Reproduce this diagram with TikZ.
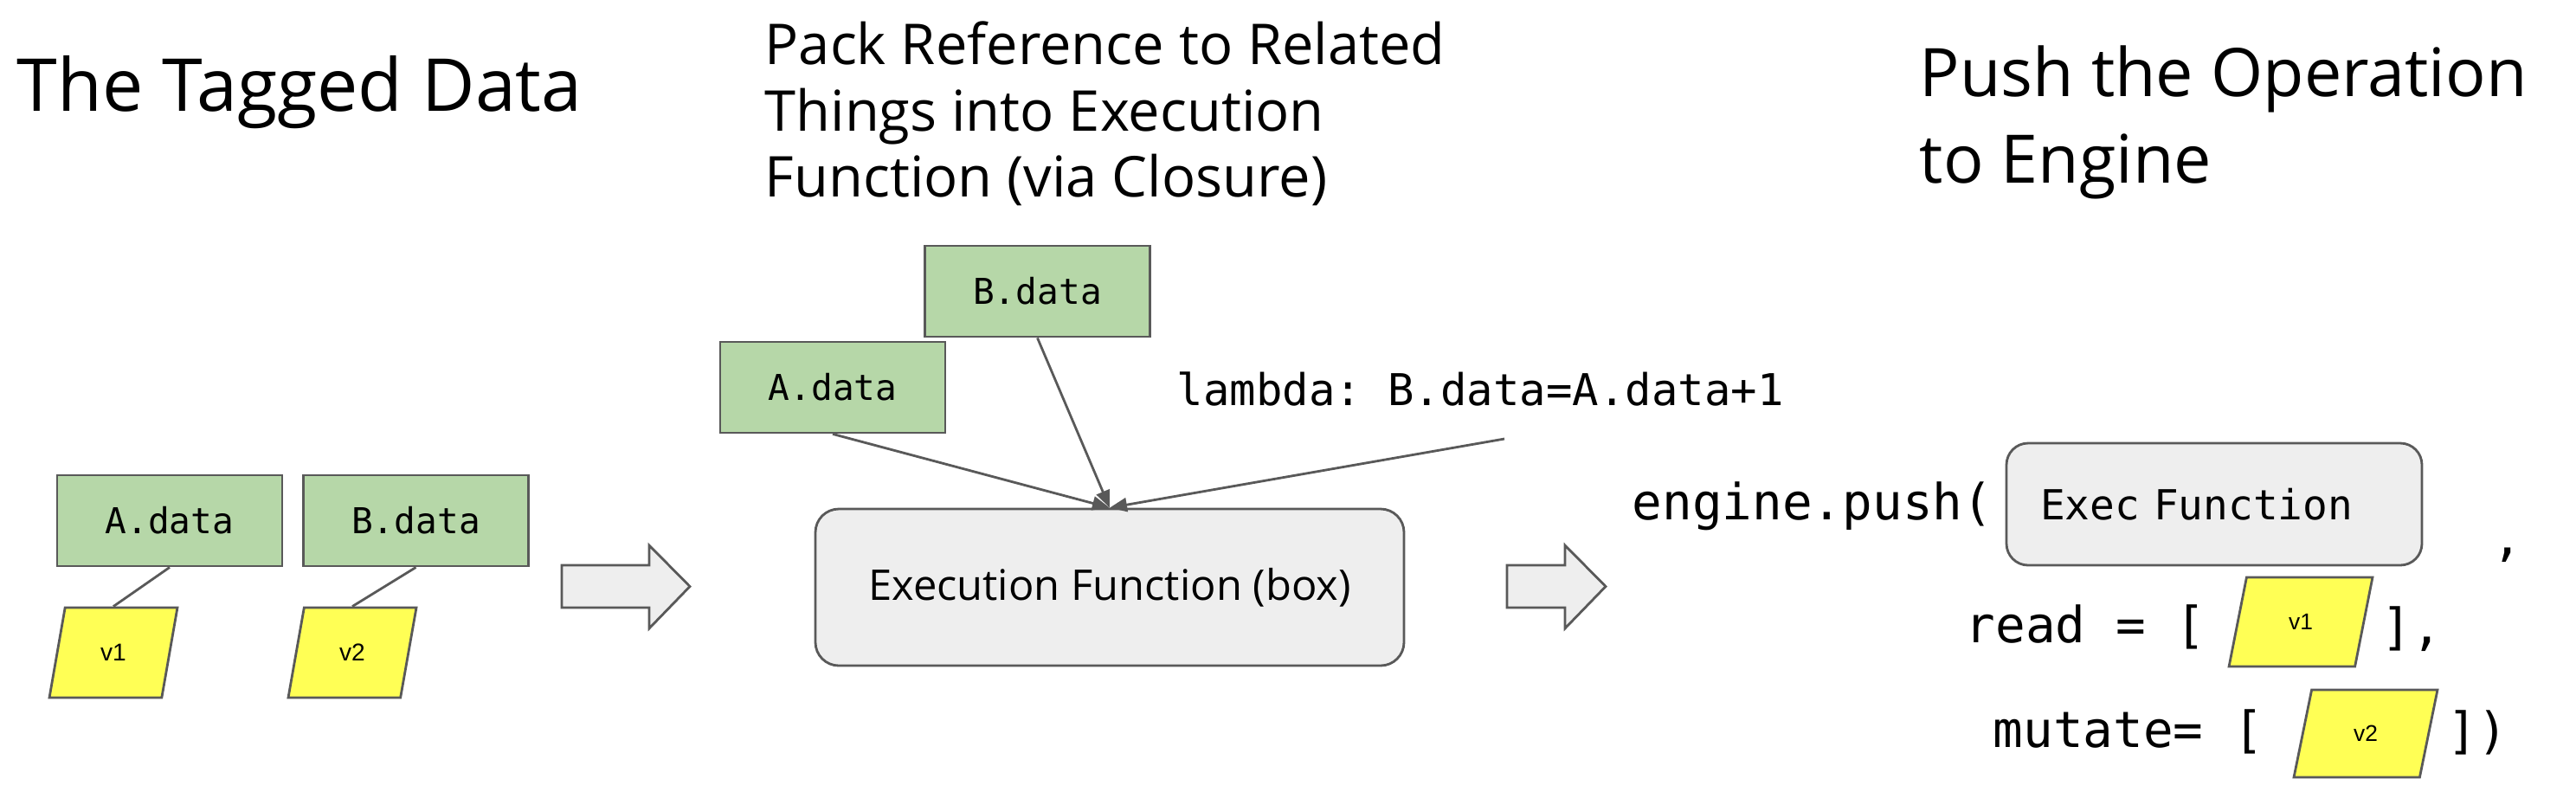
\documentclass[tikz,border=0pt]{standalone}
\usepackage{fontspec}
\setmainfont{Open Sans}
\setmonofont{DejaVu Sans Mono}
\newfontfamily\valfont{Liberation Sans}
\usepackage{xcolor}
\definecolor{tagGreen}{RGB}{182,215,168}
\definecolor{edgeGray}{RGB}{89,89,89}
\definecolor{valYellow}{RGB}{255,255,85}
\definecolor{fnGray}{RGB}{238,238,238}
\usepackage{tikz}
\usetikzlibrary{arrows.meta, positioning, shapes.geometric}

\tikzset{
  databox/.style={draw=edgeGray, fill=tagGreen, line width=0.8pt, minimum width=2.6cm,
    minimum height=1.05cm, inner sep=0pt, font=\ttfamily\fontsize{11.7}{14}\selectfont},
  valbox/.style={draw=edgeGray, fill=valYellow, line width=0.8pt, trapezium,
    trapezium left angle=76, trapezium right angle=104, trapezium stretches=true,
    minimum width=1.48cm, minimum height=1.04cm, inner sep=0pt,
    font=\valfont\fontsize{8}{10}\selectfont},
  fnbox/.style={draw=edgeGray, fill=fnGray, line width=0.8pt, rounded corners=0.27cm},
  codetext/.style={anchor=base west, inner sep=0pt, font=\ttfamily\fontsize{16.4}{20}\selectfont},
  link/.style={draw=edgeGray, line width=0.8pt},
  feed/.style={link, -{Triangle[length=0.2cm, width=0.16cm]}},
  bigarrow/.style={draw=edgeGray, fill=fnGray, line width=0.8pt},
}

\begin{document}
\begin{tikzpicture}
\useasboundingbox (0,0) rectangle (29.76,-9.14);

% === The Tagged Data ===
\node[anchor=base west, inner sep=0pt, font=\fontsize{24}{29}\selectfont] (tagtitle) at (0.19,-1.28) {The Tagged Data};

\node[databox] (adata) at (1.96,-6.015) {A.data};
\node[databox] (bdata) at (4.805,-6.015) {B.data};
\node[valbox] (vone) at (1.31,-7.54) {v1};
\node[valbox] (vtwo) at (4.07,-7.54) {v2};

\draw[link] (adata.south) -- (vone.north);
\draw[link] (bdata.south) -- (vtwo.north);

% block arrow
\draw[bigarrow] (6.49,-6.53) -- (7.50,-6.53) -- (7.50,-6.30) -- (7.97,-6.775)
  -- (7.50,-7.26) -- (7.50,-7.02) -- (6.49,-7.02) -- cycle;

% === Pack into Execution Function ===
\node[anchor=north west, align=left, inner sep=0pt, font=\fontsize{18.5}{21.8}\selectfont] (packtitle) at (8.83,-0.24)
  {Pack Reference to Related\\Things into Execution\\Function (via Closure)};

\node[databox] (adatab) at (9.62,-4.475) {A.data};
\node[databox] (bdatab) at (11.985,-3.365) {B.data};
\node[fnbox, minimum width=6.8cm, minimum height=1.81cm, font=\fontsize{13.9}{17}\selectfont] (execfn) at (12.82,-6.785)
  {Execution Function (box)};

\node[anchor=base west, inner sep=0pt, font=\ttfamily\fontsize{14.4}{17}\selectfont] (lambda) at (13.59,-4.68)
  {lambda: B.data=A.data+1};
\coordinate (lamfoot) at (17.38,-5.07);

\draw[feed] (adatab.south) -- (execfn.north);
\draw[feed] (bdatab.south) -- (execfn.north);
\draw[feed] (lamfoot) -- (execfn.north);

% block arrow
\draw[bigarrow] (17.41,-6.53) -- (18.08,-6.53) -- (18.08,-6.30) -- (18.55,-6.775)
  -- (18.08,-7.26) -- (18.08,-7.02) -- (17.41,-7.02) -- cycle;

% === Push to Engine ===
\node[anchor=north west, align=left, inner sep=0pt, font=\fontsize{22}{28.4}\selectfont] (pushtitle) at (22.17,-0.52)
  {Push the Operation\\to Engine};

\node[codetext] (push) at (18.85,-6.00) {engine.push(};
\node[fnbox, rounded corners=0.25cm, minimum height=1.41cm, text width=4.02cm, inner xsep=0.39cm, align=left,
      font=\ttfamily\fontsize{13.6}{16}\selectfont] (execbox) at (25.58,-5.825) {Exec Function};
\node[codetext] (comma) at (28.79,-6.41) {,};

\node[codetext] (readkw) at (22.70,-7.42) {read = [};
\node[valbox, minimum width=1.66cm, minimum height=1.03cm, font=\valfont\fontsize{7.5}{9}\selectfont] (vread) at (26.58,-7.185) {v1};
\node[codetext] (readend) at (27.51,-7.44) {],};

\node[codetext] (mutkw) at (23.02,-8.63) {mutate= [};
\node[valbox, minimum width=1.66cm, minimum height=1.01cm, font=\valfont\fontsize{7.5}{9}\selectfont] (vmut) at (27.33,-8.475) {v2};
\node[codetext] (mutend) at (28.27,-8.64) {])};

\end{tikzpicture}
\end{document}
